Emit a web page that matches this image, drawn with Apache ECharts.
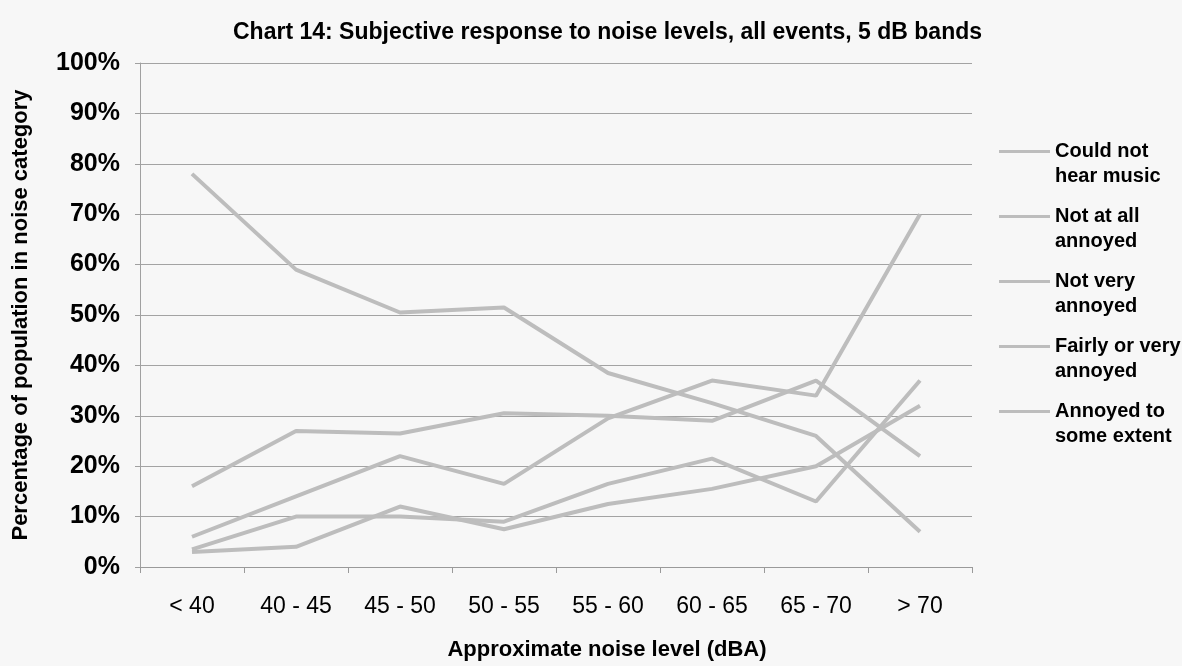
<!DOCTYPE html>
<html>
<head>
<meta charset="utf-8">
<script src="https://cdn.jsdelivr.net/npm/echarts@6/dist/echarts.min.js"></script>
<style>
html,body{margin:0;padding:0;background:#f7f7f7;}
#chart{width:1182px;height:666px;}
</style>
</head>
<body>
<div id="chart"></div>
<script>
const categories = ['< 40', '40 - 45', '45 - 50', '50 - 55', '55 - 60', '60 - 65', '65 - 70', '> 70'];
const yTicks = [0, 10, 20, 30, 40, 50, 60, 70, 80, 90, 100];
const couldNotHear = [78, 59, 50.5, 51.5, 38.5, 32.5, 26, 7];
const notAtAll = [16, 27, 26.5, 30.5, 30, 29, 37, 22];
const notVery = [3.5, 10, 10, 9, 16.5, 21.5, 13, 37];
const fairlyVery = [3, 4, 12, 7.5, 12.5, 15.5, 20, 32];
const annoyedSome = [6, 14, 22, 16.5, 29.5, 37, 34, 70];
const seriesNames = ['Could not\nhear music', 'Not at all\nannoyed', 'Not very\nannoyed', 'Fairly or very\nannoyed', 'Annoyed to\nsome extent'];
const seriesData = [couldNotHear, notAtAll, notVery, fairlyVery, annoyedSome];

const chart = echarts.init(document.getElementById('chart'));
const font = '"Liberation Sans", Arial, sans-serif';
chart.setOption({
  backgroundColor: '#f7f7f7',
  animation: false,
  title: {
    text: 'Chart 14: Subjective response to noise levels, all events, 5 dB bands',
    left: 228, top: 16,
    textStyle: {fontFamily: font, fontSize: 23, fontWeight: 'bold', color: '#000'}
  },
  grid: {left: 140, right: 210, top: 63, bottom: 99},
  legend: {
    orient: 'vertical', left: 994, top: 109,
    icon: 'rect', itemWidth: 51, itemHeight: 3, itemGap: -10,
    formatter: name => '\n' + name,
    textStyle: {fontFamily: font, fontSize: 20, fontWeight: 'bold', color: '#000', lineHeight: 25},
    data: seriesNames
  },
  xAxis: {
    type: 'category', data: categories, boundaryGap: true,
    name: 'Approximate noise level (dBA)', nameLocation: 'middle', nameGap: 72,
    nameTextStyle: {fontFamily: font, fontSize: 22, fontWeight: 'bold', color: '#000', padding: [0, 0, 0, 102]},
    axisLine: {lineStyle: {color: '#9a9a9a', width: 1}},
    axisTick: {show: true, length: 6, lineStyle: {color: '#9a9a9a'}},
    axisLabel: {fontFamily: font, fontSize: 23, color: '#000', margin: 28}
  },
  yAxis: {
    type: 'value', min: 0, max: 100, interval: 10,
    name: 'Percentage of population in noise category', nameLocation: 'middle', nameRotate: 90, nameGap: 108,
    nameTextStyle: {fontFamily: font, fontSize: 22, fontWeight: 'bold', color: '#000'},
    axisLine: {show: true, lineStyle: {color: '#a0a0a0'}},
    axisTick: {show: true, length: 5, lineStyle: {color: '#a0a0a0'}},
    axisLabel: {fontFamily: font, fontSize: 25, fontWeight: 'bold', color: '#000', margin: 20,
      formatter: v => yTicks.includes(v) ? v + '%' : ''},
    splitLine: {lineStyle: {color: '#a3a3a3', width: 1}}
  },
  series: seriesData.map((d, i) => ({
    name: seriesNames[i], type: 'line', data: d, showSymbol: false, symbol: 'none',
    lineStyle: {color: '#bdbdbd', width: 4}, itemStyle: {color: '#bdbdbd'}
  }))
});
</script>
</body>
</html>
